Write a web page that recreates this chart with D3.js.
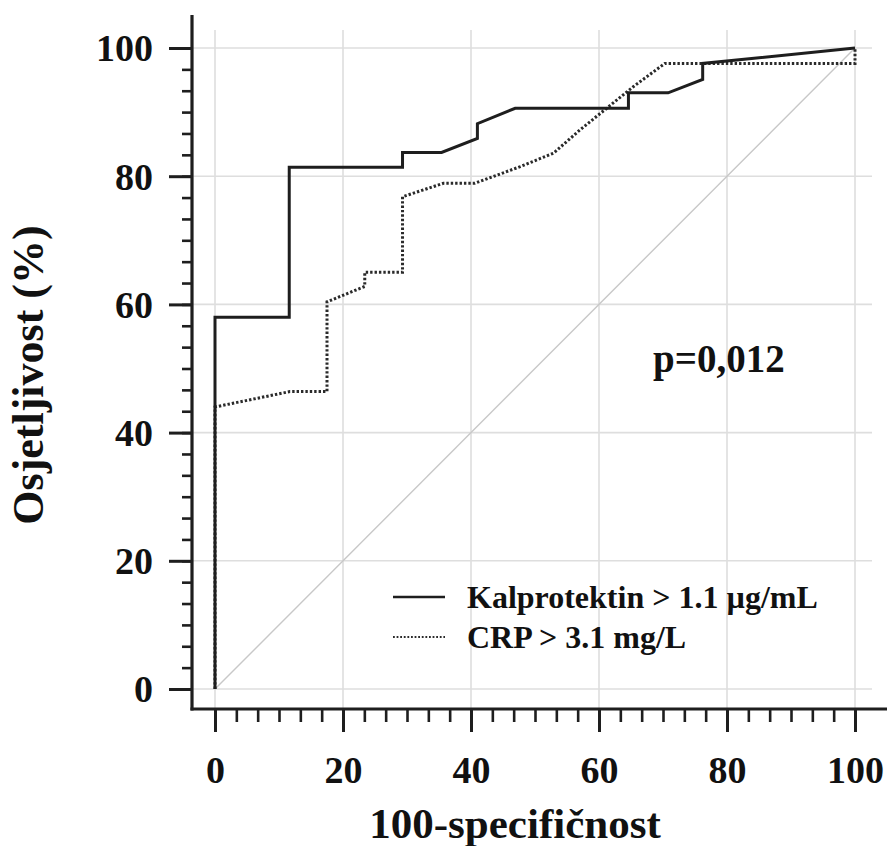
<!DOCTYPE html>
<html><head><meta charset="utf-8">
<script src="https://cdn.jsdelivr.net/npm/d3@7"></script>
<style>
html,body{margin:0;padding:0;background:#fff;}
svg{display:block;font-family:"Liberation Serif","Times New Roman",serif;font-weight:bold;}
</style></head>
<body>
<svg id="c" width="887" height="846"></svg>
<script>
// ---- data ----
const xTicks = [0, 20, 40, 60, 80, 100];
const yTicks = [0, 20, 40, 60, 80, 100];
const seriesNames = ["Kalprotektin > 1.1 µg/mL", "CRP > 3.1 mg/L"];
// ROC curve for Kalprotektin: [100-specificity, sensitivity]
const kalprotektin = [
  [0, 0], [0, 58.0], [11.6, 58.0], [11.6, 81.4], [29.3, 81.4], [29.3, 83.7],
  [35.4, 83.7], [41.0, 85.9], [41.0, 88.2], [46.9, 90.6], [64.6, 90.6],
  [64.6, 93.0], [70.8, 93.0], [76.2, 95.1], [76.2, 97.6], [100, 100]
];
// ROC curve for CRP
const crp = [
  [0, 0], [0, 44.0], [11.7, 46.4], [17.5, 46.4], [17.5, 60.4], [23.4, 62.8],
  [23.4, 65.0], [29.3, 65.0], [29.3, 76.8], [35.7, 78.9], [40.6, 78.9],
  [47.7, 81.5], [52.9, 83.6], [57.0, 87.2], [61.2, 90.6], [65.4, 94.0],
  [70.3, 97.6], [100, 97.6], [100, 100]
];
const reference = [[0, 0], [100, 100]];
const pText = "p=0,012";
const xTitle = "100-specifičnost";
const yTitle = "Osjetljivost (%)";

// ---- drawing ----
const svg = d3.select("#c");
const x = d3.scaleLinear().domain([0, 100]).range([215, 855]);
const y = d3.scaleLinear().domain([0, 100]).range([689, 48]);
const axisX = 192, axisY = 709;
const ink = "#1e1e1e";

// grid
const grid = svg.append("g");
grid.selectAll("line.v").data(xTicks).join("line")
  .attr("x1", d => x(d)).attr("x2", d => x(d))
  .attr("y1", 30).attr("y2", axisY)
  .attr("stroke", "#dedede").attr("stroke-width", 1.6);
grid.selectAll("line.h").data(yTicks).join("line")
  .attr("x1", axisX).attr("x2", 872)
  .attr("y1", d => y(d)).attr("y2", d => y(d))
  .attr("stroke", "#dedede").attr("stroke-width", 1.6);

// reference diagonal
const line = d3.line().x(d => x(d[0])).y(d => y(d[1]));
svg.append("path").datum(reference).attr("d", line)
  .attr("fill", "none").attr("stroke", "#c8c8c8").attr("stroke-width", 1.4);

// curves
svg.append("path").datum(crp).attr("d", line)
  .attr("fill", "none").attr("stroke", "#2a2a2a").attr("stroke-width", 3)
  .attr("stroke-dasharray", "2.4,2");
svg.append("path").datum(kalprotektin).attr("d", line)
  .attr("fill", "none").attr("stroke", ink).attr("stroke-width", 3)
  .attr("stroke-linejoin", "miter");

// minor ticks
const minor = d3.range(0, 31).map(i => i * 100 / 30);
const gyMinor = svg.append("g").attr("transform", `translate(${axisX},0)`)
  .call(d3.axisLeft(y).tickValues(minor).tickSize(10).tickFormat(""));
gyMinor.select(".domain").remove();
gyMinor.selectAll("line").attr("stroke", ink).attr("stroke-width", 2.6);
const gxMinor = svg.append("g").attr("transform", `translate(0,${axisY})`)
  .call(d3.axisBottom(x).tickValues(minor).tickSize(13).tickFormat(""));
gxMinor.select(".domain").remove();
gxMinor.selectAll("line").attr("stroke", ink).attr("stroke-width", 2.6);

// major ticks + labels
const gy = svg.append("g").attr("transform", `translate(${axisX},0)`)
  .call(d3.axisLeft(y).tickValues(yTicks).tickSize(23).tickPadding(16).tickFormat(d3.format("d")));
gy.select(".domain").remove();
gy.selectAll("line").attr("stroke", ink).attr("stroke-width", 3);
gy.selectAll("text").attr("fill", "#111").style("font-size", "38px")
  .style("font-family", "'Liberation Serif','Times New Roman',serif").style("font-weight", "bold")
  .attr("dy", "0.34em");

const gx = svg.append("g").attr("transform", `translate(0,${axisY})`)
  .call(d3.axisBottom(x).tickValues(xTicks).tickSize(23).tickFormat(d3.format("d")));
gx.select(".domain").remove();
gx.selectAll("line").attr("stroke", ink).attr("stroke-width", 3);
gx.selectAll("text").attr("fill", "#111").style("font-size", "38px")
  .style("font-family", "'Liberation Serif','Times New Roman',serif").style("font-weight", "bold")
  .attr("y", 74).attr("dy", null);

// axis lines
svg.append("line").attr("x1", axisX).attr("x2", axisX).attr("y1", 15).attr("y2", axisY + 1.5)
  .attr("stroke", ink).attr("stroke-width", 3.2);
svg.append("line").attr("x1", axisX - 1.5).attr("x2", 887).attr("y1", axisY).attr("y2", axisY)
  .attr("stroke", ink).attr("stroke-width", 3.2);

// titles
svg.append("text").attr("x", 515).attr("y", 838).attr("text-anchor", "middle")
  .style("font-size", "43px").attr("fill", "#111").text(xTitle);
svg.append("text").attr("transform", "translate(43,375) rotate(-90)").attr("text-anchor", "middle")
  .style("font-size", "44px").attr("fill", "#111").text(yTitle);

// p value
svg.append("text").attr("x", 653).attr("y", 372).style("font-size", "39px")
  .attr("fill", "#111").text(pText);

// legend
const legend = svg.append("g");
const legY = [597, 637];
legend.append("line").attr("x1", 393).attr("x2", 445).attr("y1", legY[0]).attr("y2", legY[0])
  .attr("stroke", ink).attr("stroke-width", 2.4);
legend.append("line").attr("x1", 393).attr("x2", 445).attr("y1", legY[1]).attr("y2", legY[1])
  .attr("stroke", "#2a2a2a").attr("stroke-width", 2.2).attr("stroke-dasharray", "1.8,1.8");
legend.selectAll("text").data(seriesNames).join("text")
  .attr("x", 467).attr("y", (d, i) => legY[i] + 11)
  .style("font-size", "32px").attr("fill", "#111").text(d => d);
</script>
</body></html>
